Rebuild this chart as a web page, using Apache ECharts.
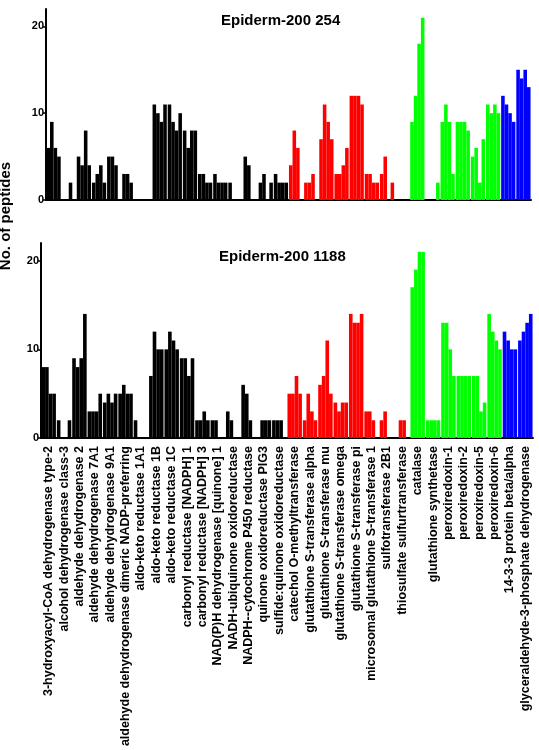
<!DOCTYPE html>
<html>
<head>
<meta charset="utf-8">
<script src="https://cdn.jsdelivr.net/npm/echarts@6/dist/echarts.min.js"></script>
<style>
html, body { margin: 0; padding: 0; background: #fff; }
#chart { width: 539px; height: 750px; }
</style>
</head>
<body>
<div id="chart"></div>
<script>
const proteins = [
  '3-hydroxyacyl-CoA dehydrogenase type-2',
  'alcohol dehydrogenase class-3',
  'aldehyde dehydrogenase 2',
  'aldehyde dehydrogenase 7A1',
  'aldehyde dehydrogenase 9A1',
  'aldehyde dehydrogenase dimeric NADP-preferring',
  'aldo-keto reductase 1A1',
  'aldo-keto reductase 1B',
  'aldo-keto reductase 1C',
  'carbonyl reductase [NADPH] 1',
  'carbonyl reductase [NADPH] 3',
  'NAD(P)H dehydrogenase [quinone] 1',
  'NADH-ubiquinone oxidoreductase',
  'NADPH--cytochrome P450 reductase',
  'quinone oxidoreductase PIG3',
  'sulfide:quinone oxidoreductase',
  'catechol O-methyltransferase',
  'glutathione S-transferase alpha',
  'glutathione S-transferase mu',
  'glutathione S-transferase omega',
  'glutathione S-transferase pi',
  'microsomal glutathione S-transferase 1',
  'sulfotransferase 2B1',
  'thiosulfate sulfurtransferase',
  'catalase',
  'glutathione synthetase',
  'peroxiredoxin-1',
  'peroxiredoxin-2',
  'peroxiredoxin-5',
  'peroxiredoxin-6',
  '14-3-3 protein beta/alpha',
  'glyceraldehyde-3-phosphate dehydrogenase'
]

// protein class, one per protein
const family = [
  'redox', 'redox', 'redox', 'redox', 'redox', 'redox', 'redox', 'redox',
  'redox', 'redox', 'redox', 'redox', 'redox', 'redox', 'redox', 'redox',
  'conj', 'conj', 'conj', 'conj', 'conj', 'conj', 'conj', 'conj',
  'antiox', 'antiox', 'antiox', 'antiox', 'antiox', 'antiox',
  'other', 'other'
]

// no. of peptides, 4 replicates per protein
const epi254 = [
  [6, 9, 6, 5], [0, 0, 2, 0], [5, 4, 8, 4], [2, 3, 4, 2],
  [5, 5, 4, 0], [3, 3, 2, 0], [0, 0, 0, 0], [11, 10, 9, 11],
  [11, 9, 8, 10], [8, 6, 8, 8], [3, 3, 2, 2], [3, 2, 2, 2],
  [2, 0, 0, 0], [5, 4, 0, 0], [2, 3, 0, 2], [3, 2, 2, 2],
  [4, 8, 6, 0], [2, 2, 3, 0], [7, 11, 9, 7], [3, 3, 4, 6],
  [12, 12, 12, 11], [3, 3, 2, 2], [3, 5, 0, 2], [0, 0, 0, 0],
  [9, 12, 18, 21], [0, 0, 0, 2], [9, 11, 9, 3], [9, 9, 9, 8],
  [5, 6, 2, 7], [11, 10, 11, 10], [12, 11, 10, 9], [15, 14, 15, 13]
]

const epi1188 = [
  [8, 8, 5, 5], [2, 0, 0, 2], [9, 8, 9, 14], [3, 3, 3, 5],
  [4, 5, 4, 5], [5, 6, 5, 5], [2, 0, 0, 0], [7, 12, 10, 10],
  [10, 12, 11, 10], [9, 9, 7, 9], [2, 2, 3, 2], [2, 2, 0, 0],
  [3, 2, 0, 0], [6, 5, 2, 0], [0, 2, 2, 2], [2, 2, 2, 0],
  [5, 5, 7, 5], [2, 5, 3, 2], [6, 7, 11, 5], [4, 3, 4, 4],
  [14, 13, 13, 14], [3, 3, 2, 0], [2, 3, 0, 0], [0, 2, 2, 0],
  [17, 19, 21, 21], [2, 2, 2, 2], [13, 13, 10, 7], [7, 7, 7, 7],
  [7, 7, 3, 4], [14, 12, 11, 10], [12, 11, 10, 10], [11, 12, 13, 14]
]

const yMax = 22
const yStep = 10

const famColor = {
  redox: '#000000',
  conj: '#ff0000',
  antiox: '#00ff00',
  other: '#0000ff'
}

const font = '"Liberation Sans", Arial, sans-serif'

function panelSeries(vals, idx) {
  let out = []
  for (let r = 0; r < 4; r++) {
    out.push({
      type: 'bar',
      xAxisIndex: idx,
      yAxisIndex: idx,
      barGap: '0%',
      barCategoryGap: '6%',
      silent: true,
      data: vals.map((v, i) => {
        return {value: v[r], itemStyle: {color: famColor[family[i]]}}
      })
    })
  }
  return out
}

function yAxisOf(idx) {
  return {
    type: 'value',
    gridIndex: idx,
    min: 0,
    max: yMax,
    interval: yStep,
    splitLine: {show: false},
    axisLine: {show: true, lineStyle: {color: '#000', width: 2}},
    axisTick: {show: true, length: 3, lineStyle: {color: '#000', width: 1.5}},
    axisLabel: {
      margin: 2,
      color: '#000',
      fontWeight: 'bold',
      fontSize: 11,
      fontFamily: font,
      showMaxLabel: false
    }
  }
}

const chart = echarts.init(document.getElementById('chart'))
const option = {
  animation: false,
  backgroundColor: '#fff',
  title: [{
    text: 'Epiderm-200 254',
    left: 216,
    top: 8,
    textStyle: {color: '#000', fontWeight: 'bold', fontSize: 15, fontFamily: font}
  }, {
    text: 'Epiderm-200 1188',
    left: 214,
    top: 244,
    textStyle: {color: '#000', fontWeight: 'bold', fontSize: 15, fontFamily: font}
  }],
  graphic: [{
    type: 'text',
    x: 5.5,
    y: 216,
    rotation: Math.PI / 2,
    style: {
      text: 'No. of peptides',
      fill: '#000',
      font: 'bold 15px ' + font,
      textAlign: 'center',
      textVerticalAlign: 'middle'
    }
  }],
  grid: [
    {left: 46, right: 8, top: 9, height: 191},
    {left: 41, right: 6, top: 243, height: 195}
  ],
  xAxis: [{
    type: 'category',
    gridIndex: 0,
    data: proteins,
    axisLine: {lineStyle: {color: '#000', width: 2}},
    axisTick: {show: false},
    axisLabel: {show: false}
  }, {
    type: 'category',
    gridIndex: 1,
    data: proteins,
    axisLine: {lineStyle: {color: '#000', width: 2}},
    axisTick: {show: false},
    axisLabel: {
      interval: 0,
      rotate: 90,
      margin: 8,
      color: '#000',
      fontWeight: 'bold',
      fontSize: 12.5,
      fontFamily: font
    }
  }],
  yAxis: [yAxisOf(0), yAxisOf(1)],
  series: panelSeries(epi254, 0).concat(panelSeries(epi1188, 1))
}
chart.setOption(option)
</script>
</body>
</html>
